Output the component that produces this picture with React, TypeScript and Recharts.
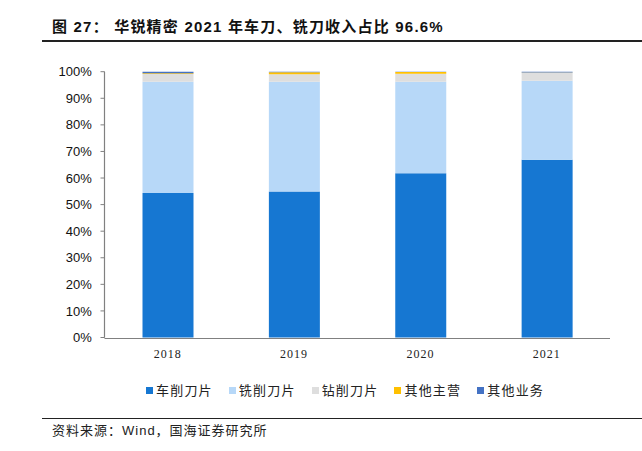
import React from 'react';
import { BarChart, Bar, XAxis, YAxis, Legend, ReferenceLine } from 'recharts';

// 华锐精密 revenue mix by product (% of total)
const years = ['2018', '2019', '2020', '2021'];
const turning = [54.4, 54.9, 61.8, 66.9];
const milling = [41.8, 41.3, 34.4, 29.7];
const drilling = [2.9, 2.8, 3.0, 3.0];
const otherMain = [0.3, 0.75, 0.7, 0.1];
const otherBiz = [0.6, 0.25, 0.1, 0.3];
const yTicks = [0, 10, 20, 30, 40, 50, 60, 70, 80, 90, 100];
const edgeTicks = [0, 1, 2, 3, 4];

const series = [
  { key: 'turning', name: '车削刀片', color: '#1677D2' },
  { key: 'milling', name: '铣削刀片', color: '#B7D8F8' },
  { key: 'drilling', name: '钻削刀片', color: '#DEDEDE' },
  { key: 'otherMain', name: '其他主营', color: '#FFC000' },
  { key: 'otherBiz', name: '其他业务', color: '#4472C4' },
];

const data = years.map((year, i) => ({
  year,
  turning: turning[i],
  milling: milling[i],
  drilling: drilling[i],
  otherMain: otherMain[i],
  otherBiz: otherBiz[i],
}));

const axisColor = '#808080';
const cjk = '"Noto Sans CJK SC", sans-serif';

const seriesOrder = (name: string) => series.findIndex((s) => s.name === name);

const renderLegend = (props: any) => {
  const payload = [...(props.payload || [])].sort(
    (a: any, b: any) => seriesOrder(a.value) - seriesOrder(b.value)
  );
  return (
    <div style={{ display: 'flex', alignItems: 'center' }}>
      {payload.map((entry: any) => (
        <div
          key={entry.value}
          style={{ display: 'flex', alignItems: 'center', marginRight: 16 }}
        >
          <span
            style={{
              width: 7,
              height: 7,
              background: entry.color,
              marginRight: 3,
              display: 'inline-block',
            }}
          />
          <span
            style={{
              fontFamily: cjk,
              fontSize: 13,
              letterSpacing: 1.2,
              color: '#222',
              lineHeight: '16px',
            }}
          >
            {entry.value}
          </span>
        </div>
      ))}
    </div>
  );
};

export default function App() {
  return (
    <div
      style={{
        position: 'absolute',
        left: 0,
        top: 0,
        width: 642,
        height: 451,
        background: '#fff',
        overflow: 'hidden',
      }}
    >
      <div
        style={{
          position: 'absolute',
          left: 52,
          top: 17,
          fontFamily: '"Liberation Sans", "Noto Sans CJK SC", sans-serif',
          fontWeight: 'bold',
          fontSize: 15,
          letterSpacing: 1.2,
          color: '#111',
          lineHeight: '20px',
          whiteSpace: 'nowrap',
        }}
      >
        图 27： 华锐精密 2021 年车刀、铣刀收入占比 96.6%
      </div>
      <div
        style={{
          position: 'absolute',
          left: 42,
          top: 40,
          width: 600,
          height: 1.5,
          background: '#222',
        }}
      />

      <BarChart
        width={642}
        height={451}
        data={data}
        margin={{ top: 71.7, right: 32, bottom: 111.5, left: 4.5 }}
        style={{ position: 'absolute', left: 0, top: 0 }}
      >
        <XAxis
          xAxisId="edges"
          type="number"
          dataKey={() => 0}
          domain={[0, 4]}
          ticks={edgeTicks}
          tick={false}
          tickSize={5}
          height={1}
          stroke={axisColor}
          allowDataOverflow
        />
        <XAxis
          xAxisId="cat"
          dataKey="year"
          axisLine={false}
          tickLine={false}
          tickSize={0}
          tickMargin={12}
          height={1}
          interval={0}
          tick={{
            fill: '#222',
            fontSize: 12,
            fontFamily: '"Liberation Serif", serif',
            letterSpacing: 1,
          }}
        />
        <YAxis
          domain={[0, 100]}
          ticks={yTicks}
          width={100}
          tickSize={4}
          tickMargin={8.7}
          stroke={axisColor}
          strokeWidth={1}
          tickFormatter={(v: number) => `${v}%`}
          tick={{ fill: '#111', fontSize: 13, fontFamily: '"Liberation Sans", Arial, sans-serif' }}
          interval={0}
        />
        <Legend
          layout="horizontal"
          verticalAlign="middle"
          align="center"
          content={renderLegend}
          wrapperStyle={{ top: 382, left: 146, width: 460, height: 18 }}
        />
        {series.map((s) => (
          <Bar
            key={s.key}
            xAxisId="cat"
            dataKey={s.key}
            name={s.name}
            stackId="mix"
            fill={s.color}
            barSize={51}
            isAnimationActive={false}
          />
        ))}
        <ReferenceLine
          xAxisId="edges"
          x={0}
          stroke={axisColor}
          strokeWidth={1.2}
          ifOverflow="visible"
        />
      </BarChart>

      <div
        style={{
          position: 'absolute',
          left: 42,
          top: 417.5,
          width: 600,
          height: 1.5,
          background: '#222',
        }}
      />
      <div
        style={{
          position: 'absolute',
          left: 52,
          top: 422,
          fontFamily: '"Liberation Sans", "Noto Sans CJK SC", sans-serif',
          fontSize: 13,
          letterSpacing: 1,
          color: '#222',
          lineHeight: '18px',
          whiteSpace: 'nowrap',
        }}
      >
        资料来源：Wind，国海证券研究所
      </div>
    </div>
  );
}
